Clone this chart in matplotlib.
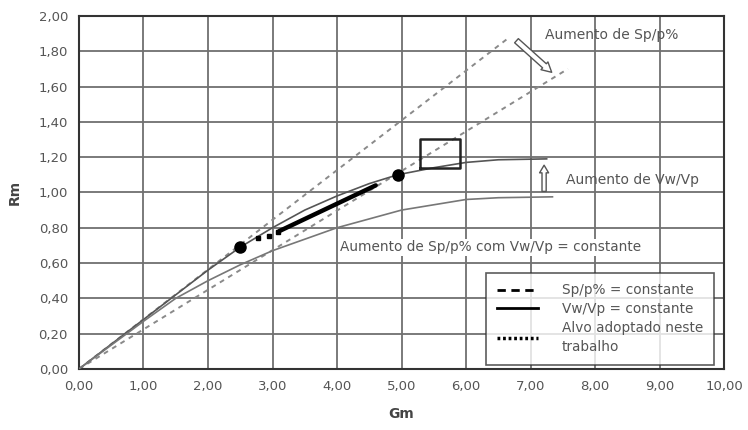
import matplotlib
matplotlib.use("Agg")
import matplotlib.pyplot as plt
import numpy as np
from matplotlib.lines import Line2D

plt.rcParams['font.family'] = ['DejaVu Sans']

# Dashed lines (Sp/p% = constante): straight through origin
dash1_x = [0.0, 6.64]
dash1_y = [0.0, 1.87]
dash2_x = [0.0, 7.58]
dash2_y = [0.0, 1.70]

# Solid curves (Vw/Vp = constante)
solid1_x = [0.0, 1.0, 2.0, 2.5, 3.0, 3.5, 4.0, 4.5, 4.94, 5.5, 6.0, 6.5, 7.25]
solid1_y = [0.0, 0.28, 0.56, 0.69, 0.80, 0.90, 0.98, 1.05, 1.10, 1.14, 1.17, 1.185, 1.19]
solid2_x = [0.0, 1.0, 1.5, 2.0, 2.5, 3.0, 4.0, 5.0, 6.0, 6.5, 7.34]
solid2_y = [0.0, 0.27, 0.40, 0.50, 0.59, 0.67, 0.80, 0.90, 0.96, 0.97, 0.975]

# Alvo adoptado
alvo_dot_x = [2.78, 2.95, 3.08]
alvo_dot_y = [0.74, 0.755, 0.775]
alvo_x = [3.1, 4.6]
alvo_y = [0.78, 1.04]

# Black points
pts_x = [2.5, 4.94]
pts_y = [0.69, 1.10]

# Box
box_x0, box_x1 = 5.28, 5.91
box_y0, box_y1 = 1.14, 1.30

xticks = np.arange(0, 11, 1)
yticks = np.arange(0, 2.01, 0.2)

fig = plt.figure(figsize=(7.48, 4.30), dpi=100)
ax = fig.add_axes([0.1056, 0.142, 0.8624, 0.821])

grid_c = '#707070'
for xv in xticks:
    ax.axvline(xv, color=grid_c, lw=1.3, zorder=0)
for yv in yticks:
    ax.axhline(yv, color=grid_c, lw=1.3, zorder=0)

ax.plot(dash1_x, dash1_y, color='#8a8a8a', lw=1.4, ls=(0, (2.5, 2.5)), zorder=2)
ax.plot(dash2_x, dash2_y, color='#8a8a8a', lw=1.4, ls=(0, (2.5, 2.5)), zorder=2)
ax.plot(solid1_x, solid1_y, color='#555555', lw=1.2, zorder=3)
ax.plot(solid2_x, solid2_y, color='#777777', lw=1.2, zorder=3)
ax.plot(alvo_dot_x, alvo_dot_y, color='black', lw=0, marker='s', ms=2.5, zorder=4)
ax.plot(alvo_x, alvo_y, color='black', lw=3.2, solid_capstyle='round', zorder=4)
ax.plot(pts_x, pts_y, 'o', color='black', ms=8, zorder=5)
ax.plot([box_x0, box_x1, box_x1, box_x0, box_x0],
        [box_y0, box_y0, box_y1, box_y1, box_y0], color='#222222', lw=1.8, zorder=4)

# Hollow arrows
ax.annotate('', xy=(7.36, 1.67), xytext=(6.75, 1.87),
            arrowprops=dict(arrowstyle='simple,head_length=0.7,head_width=0.75,tail_width=0.4',
                            fc='white', ec='#555555', lw=1.0), zorder=6)
ax.annotate('', xy=(7.21, 1.17), xytext=(7.21, 0.99),
            arrowprops=dict(arrowstyle='simple,head_length=0.55,head_width=0.65,tail_width=0.3',
                            fc='white', ec='#555555', lw=1.0), zorder=6)

txt_c = '#555555'
ax.text(7.23, 1.89, 'Aumento de Sp/p%', fontsize=10, color=txt_c, va='center', ha='left')
ax.text(7.55, 1.07, 'Aumento de Vw/Vp', fontsize=10, color=txt_c, va='center', ha='left')
ax.text(4.04, 0.69, 'Aumento de Sp/p% com Vw/Vp = constante', fontsize=9.8, color=txt_c,
        va='center', ha='left', bbox=dict(fc='white', ec='none', pad=1))

# Legend
handles = [Line2D([], [], color='black', lw=2, ls=(0, (3, 2))),
           Line2D([], [], color='black', lw=2),
           Line2D([], [], color='black', lw=2.5, ls=(0, (0.8, 0.8)))]
labels = ['Sp/p% = constante', 'Vw/Vp = constante', 'Alvo adoptado neste\ntrabalho']
leg = ax.legend(handles, labels, loc='lower right', bbox_to_anchor=(0.991, 0.0),
                fontsize=9.8, frameon=True, fancybox=False, edgecolor='#333333',
                handlelength=3.0, labelspacing=0.35, borderpad=0.8, handletextpad=1.8,
                borderaxespad=0.3)
leg.get_frame().set_linewidth(1.2)
for t in leg.get_texts():
    t.set_color('#555555')
    t.set_linespacing(1.45)
leg.set_zorder(10)

ax.set_xlim(0, 10)
ax.set_ylim(0, 2.0)
ax.set_xticks(xticks)
ax.set_yticks(yticks)
ax.set_xticklabels([f'{v:.2f}'.replace('.', ',') for v in xticks])
ax.set_yticklabels([f'{v:.2f}'.replace('.', ',') for v in yticks])
ax.tick_params(length=0, labelsize=9.5, labelcolor='#555555', pad=8)
for s in ax.spines.values():
    s.set_color('#333333')
    s.set_linewidth(1.5)

ax.set_xlabel('Gm', fontsize=10, fontweight='bold', color='#444444', labelpad=10)
ax.set_ylabel('Rm', fontsize=10, fontweight='bold', color='#444444', labelpad=12)

fig.savefig('out.png', dpi=100)
